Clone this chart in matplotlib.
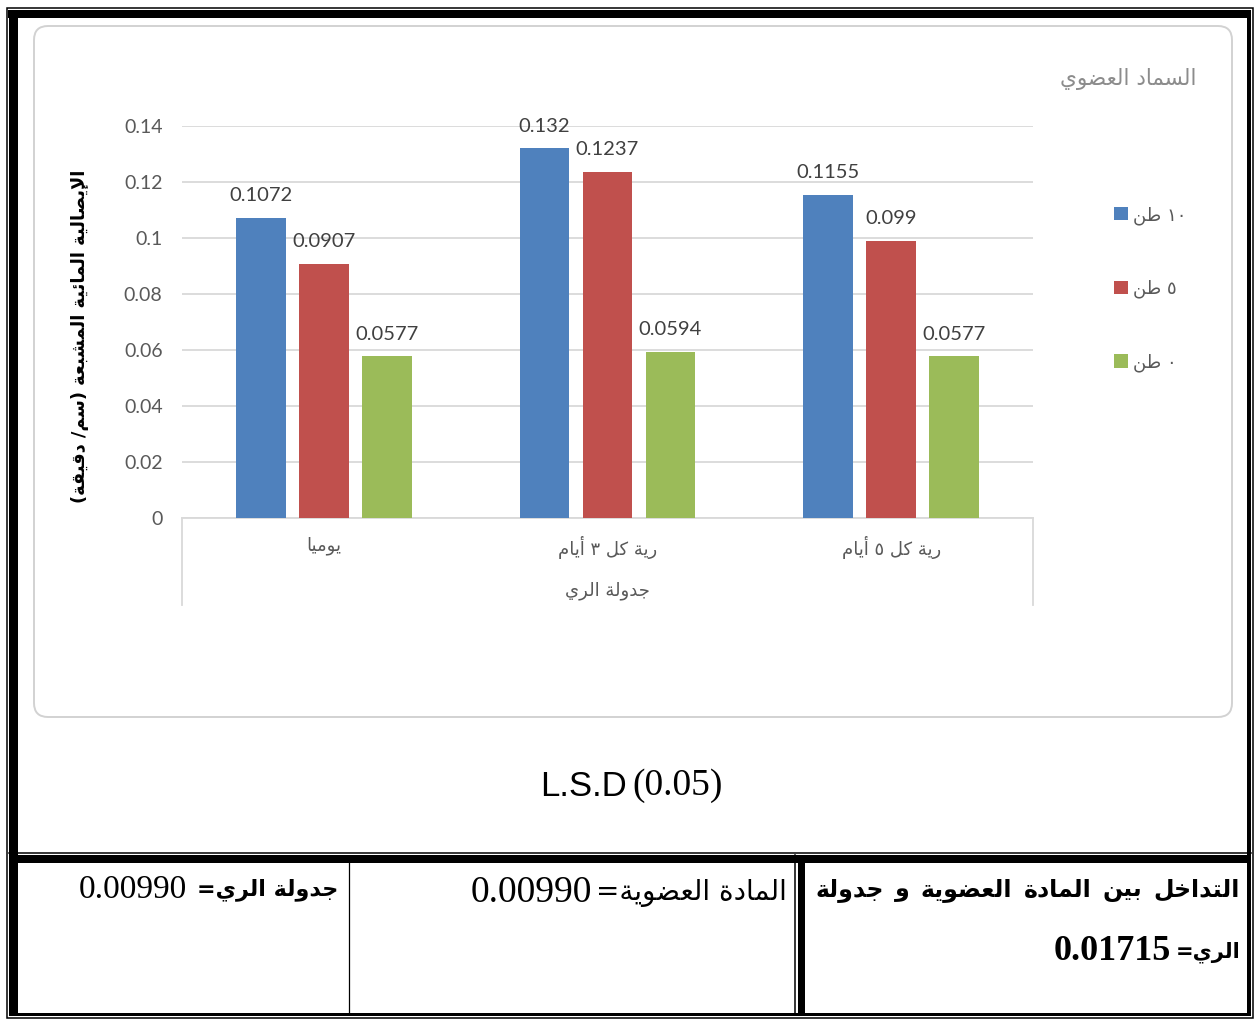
import re
import unicodedata as ud

import numpy as np
import matplotlib
matplotlib.use("Agg")
import matplotlib.pyplot as plt
from matplotlib.patches import FancyBboxPatch, Rectangle

W, H = 1255, 1019

# irrigation schedule x organic fertilizer rate
schedules = ["يوميا", "رية كل ٣ أيام", "رية كل ٥ أيام"]
rates = ["١٠ طن", "٥ طن", "٠ طن"]
k_10t = [0.1072, 0.132, 0.1155]
k_5t = [0.0907, 0.1237, 0.099]
k_0t = [0.0577, 0.0594, 0.0577]
yticks = [0, 0.02, 0.04, 0.06, 0.08, 0.1, 0.12, 0.14]

# L.S.D (0.05)
lsd_schedule = "0.00990"
lsd_organic = "0.00990"
lsd_interaction = "0.01715"

colors = ["#4F81BD", "#C0504D", "#9BBB59"]


# --- minimal arabic shaping: presentation forms + right-to-left order ---
def _form(ch, kind):
    try:
        return ud.lookup(f"{ud.name(ch)} {kind} FORM")
    except KeyError:
        return None


def _is_letter(ch):
    return bool(ch) and ud.name(ch, "").startswith("ARABIC LETTER")


def _dual(ch):
    return _is_letter(ch) and _form(ch, "INITIAL") is not None


def shape(text):
    out = []
    i = 0
    while i < len(text):
        c = text[i]
        nxt = text[i + 1] if i + 1 < len(text) else ""
        before = i > 0 and _dual(text[i - 1])
        if c == "\u0644" and _is_letter(nxt) and ud.name(nxt).startswith("ARABIC LETTER ALEF"):
            lig = "ARABIC LIGATURE LAM WITH " + ud.name(nxt)[14:]
            out.append(ud.lookup(lig + (" FINAL FORM" if before else " ISOLATED FORM")))
            i += 2
            continue
        if _is_letter(c):
            after = _dual(c) and _is_letter(nxt)
            kind = {(True, True): "MEDIAL", (True, False): "FINAL",
                    (False, True): "INITIAL", (False, False): "ISOLATED"}[(before, after)]
            out.append(_form(c, kind) or c)
        else:
            out.append(c)
        i += 1
    return "".join(out)


LTR = "[0-9A-Za-z.\u0660-\u0669]+"


def ar(text):
    runs = re.findall(LTR + "|[^0-9A-Za-z.\u0660-\u0669]+", shape(text))
    out = []
    for run in reversed(runs):
        if re.fullmatch(LTR, run):
            out.append(run)
        else:
            out.append(run[::-1].translate(str.maketrans("()", ")(")))
    return "".join(out)


plt.rcParams["font.family"] = ["Lato", "DejaVu Sans"]
AR = "DejaVu Sans"

fig = plt.figure(figsize=(W / 100, H / 100), dpi=100)

# page layer in pixel units (y down) for the table frame and notes
page = fig.add_axes([0, 0, 1, 1])
page.set_xlim(0, W)
page.set_ylim(H, 0)
page.axis("off")


def band(x0, y0, x1, y1):
    page.add_patch(Rectangle((x0, y0), x1 - x0, y1 - y0, color="black", lw=0))


band(8, 10, 1251, 18)
band(9, 10, 18, 1016)
band(1247, 10, 1251, 1016)
band(9, 1013, 1251, 1016)
band(9, 855, 1251, 863)
band(798, 855, 805, 1016)
page.add_patch(Rectangle((6.5, 7.5), 1246, 1010, fill=False, ec="black", lw=1.1))
page.plot([9, 1251], [852.5, 852.5], color="black", lw=1.1)
page.plot([795, 795], [855, 1013], color="black", lw=1.1)
page.plot([348.5, 348.5], [863, 1013], color="black", lw=0.9)

# chart area
page.add_patch(FancyBboxPatch((34, 26), 1198, 691, boxstyle="round,pad=0,rounding_size=14",
                              fc="white", ec="#d2d2d2", lw=1.4))

ax = fig.add_axes([182 / W, 1 - 518 / H, 851 / W, 392 / H])
ax.patch.set_visible(False)
x = np.arange(len(schedules))
width, step = 0.176, 0.222
for i, (vals, lab, col) in enumerate(zip([k_10t, k_5t, k_0t], rates, colors)):
    bars = ax.bar(x + (i - 1) * step, vals, width, color=col, label=ar(lab), zorder=3)
    ax.bar_label(bars, labels=[f"{v:g}" for v in vals], padding=10,
                 fontsize=14.5, color="#404040")

ax.set_xlim(-0.5, 2.5)
ax.set_ylim(0, 0.14)
ax.set_yticks(yticks, [f"{t:g}" for t in yticks])
ax.set_xticks(x, [ar(s) for s in schedules], family=AR)
ax.yaxis.grid(True, color="#d9d9d9", lw=1.3)
ax.set_axisbelow(True)
for s in ["left", "right", "top"]:
    ax.spines[s].set_visible(False)
ax.spines["bottom"].set_color("#d9d9d9")
ax.spines["bottom"].set_linewidth(1.3)
ax.tick_params(axis="y", length=0, pad=14, labelsize=14, labelcolor="#595959")
ax.tick_params(axis="x", length=0, pad=13, labelsize=13, labelcolor="#595959")
for xb in (0, 1):
    ax.plot([xb, xb], [0, -87 / 392], transform=ax.transAxes, clip_on=False,
            color="#d9d9d9", lw=1.3)

ax.set_xlabel(ar("جدولة الري"), family=AR, fontsize=13, color="#595959")
ax.xaxis.set_label_coords(0.5, -(591 - 518) / 392)
ax.xaxis.label.set_va("center")
ax.set_ylabel(ar("الإيصالية المائية المشبعة (سم/ دقيقة)"), family=AR,
              fontweight="bold", fontsize=12.8, color="black")
ax.yaxis.set_label_coords(-(182 - 80) / 851, (518 - 336) / 392)
ax.yaxis.label.set_va("center")

ax.legend(loc="upper left", bbox_to_anchor=(1114 / W, 1 - 206 / H), bbox_transform=fig.transFigure,
          frameon=False, prop={"family": AR, "size": 13}, labelcolor="#595959",
          handlelength=0.75, handleheight=0.75, handletextpad=0.3, labelspacing=3.05,
          borderpad=0, borderaxespad=0)
page.text(1197, 79, ar("السماد العضوي"), ha="right", va="center", family=AR,
          fontsize=15.5, color="#8c8c8c")

# L.S.D notes
page.text(627, 786, "L.S.D", ha="right", va="center", family="Liberation Sans", fontsize=25)
page.text(632, 786, "(0.05)", ha="left", va="center", family="Liberation Serif", fontsize=27)


def cell(xr, y, label, number, weight, ar_size, num_size, num_weight="normal", gap=3):
    t = page.text(xr, y, ar(label), ha="right", va="center", family=AR,
                  fontweight=weight, fontsize=ar_size)
    page.annotate(number, xy=(0, 0.5), xycoords=t, xytext=(-gap, 0), textcoords="offset points",
                  ha="right", va="center", family="Liberation Serif",
                  fontsize=num_size, fontweight=num_weight)


cell(338, 890, "جدولة الري=", lsd_schedule, "bold", 16, 24, gap=7)
cell(787, 893, "المادة العضوية=", lsd_organic, "normal", 20, 27)
cell(1240, 952, "الري=", lsd_interaction, "bold", 15, 26, "bold")

# first line of the interaction cell, justified across the cell
words = "التداخل بين المادة العضوية و جدولة".split()
items = [page.text(0, 890, ar(w), ha="right", va="center", family=AR,
                   fontweight="bold", fontsize=17) for w in words]
fig.canvas.draw()
renderer = fig.canvas.get_renderer()
widths = [t.get_window_extent(renderer).width for t in items]
gap = (1240 - 815 - sum(widths)) / (len(words) - 1)
xpos = 1240
for t, w in zip(items, widths):
    t.set_x(xpos)
    xpos -= w + gap

fig.savefig("out.png", dpi=100)
